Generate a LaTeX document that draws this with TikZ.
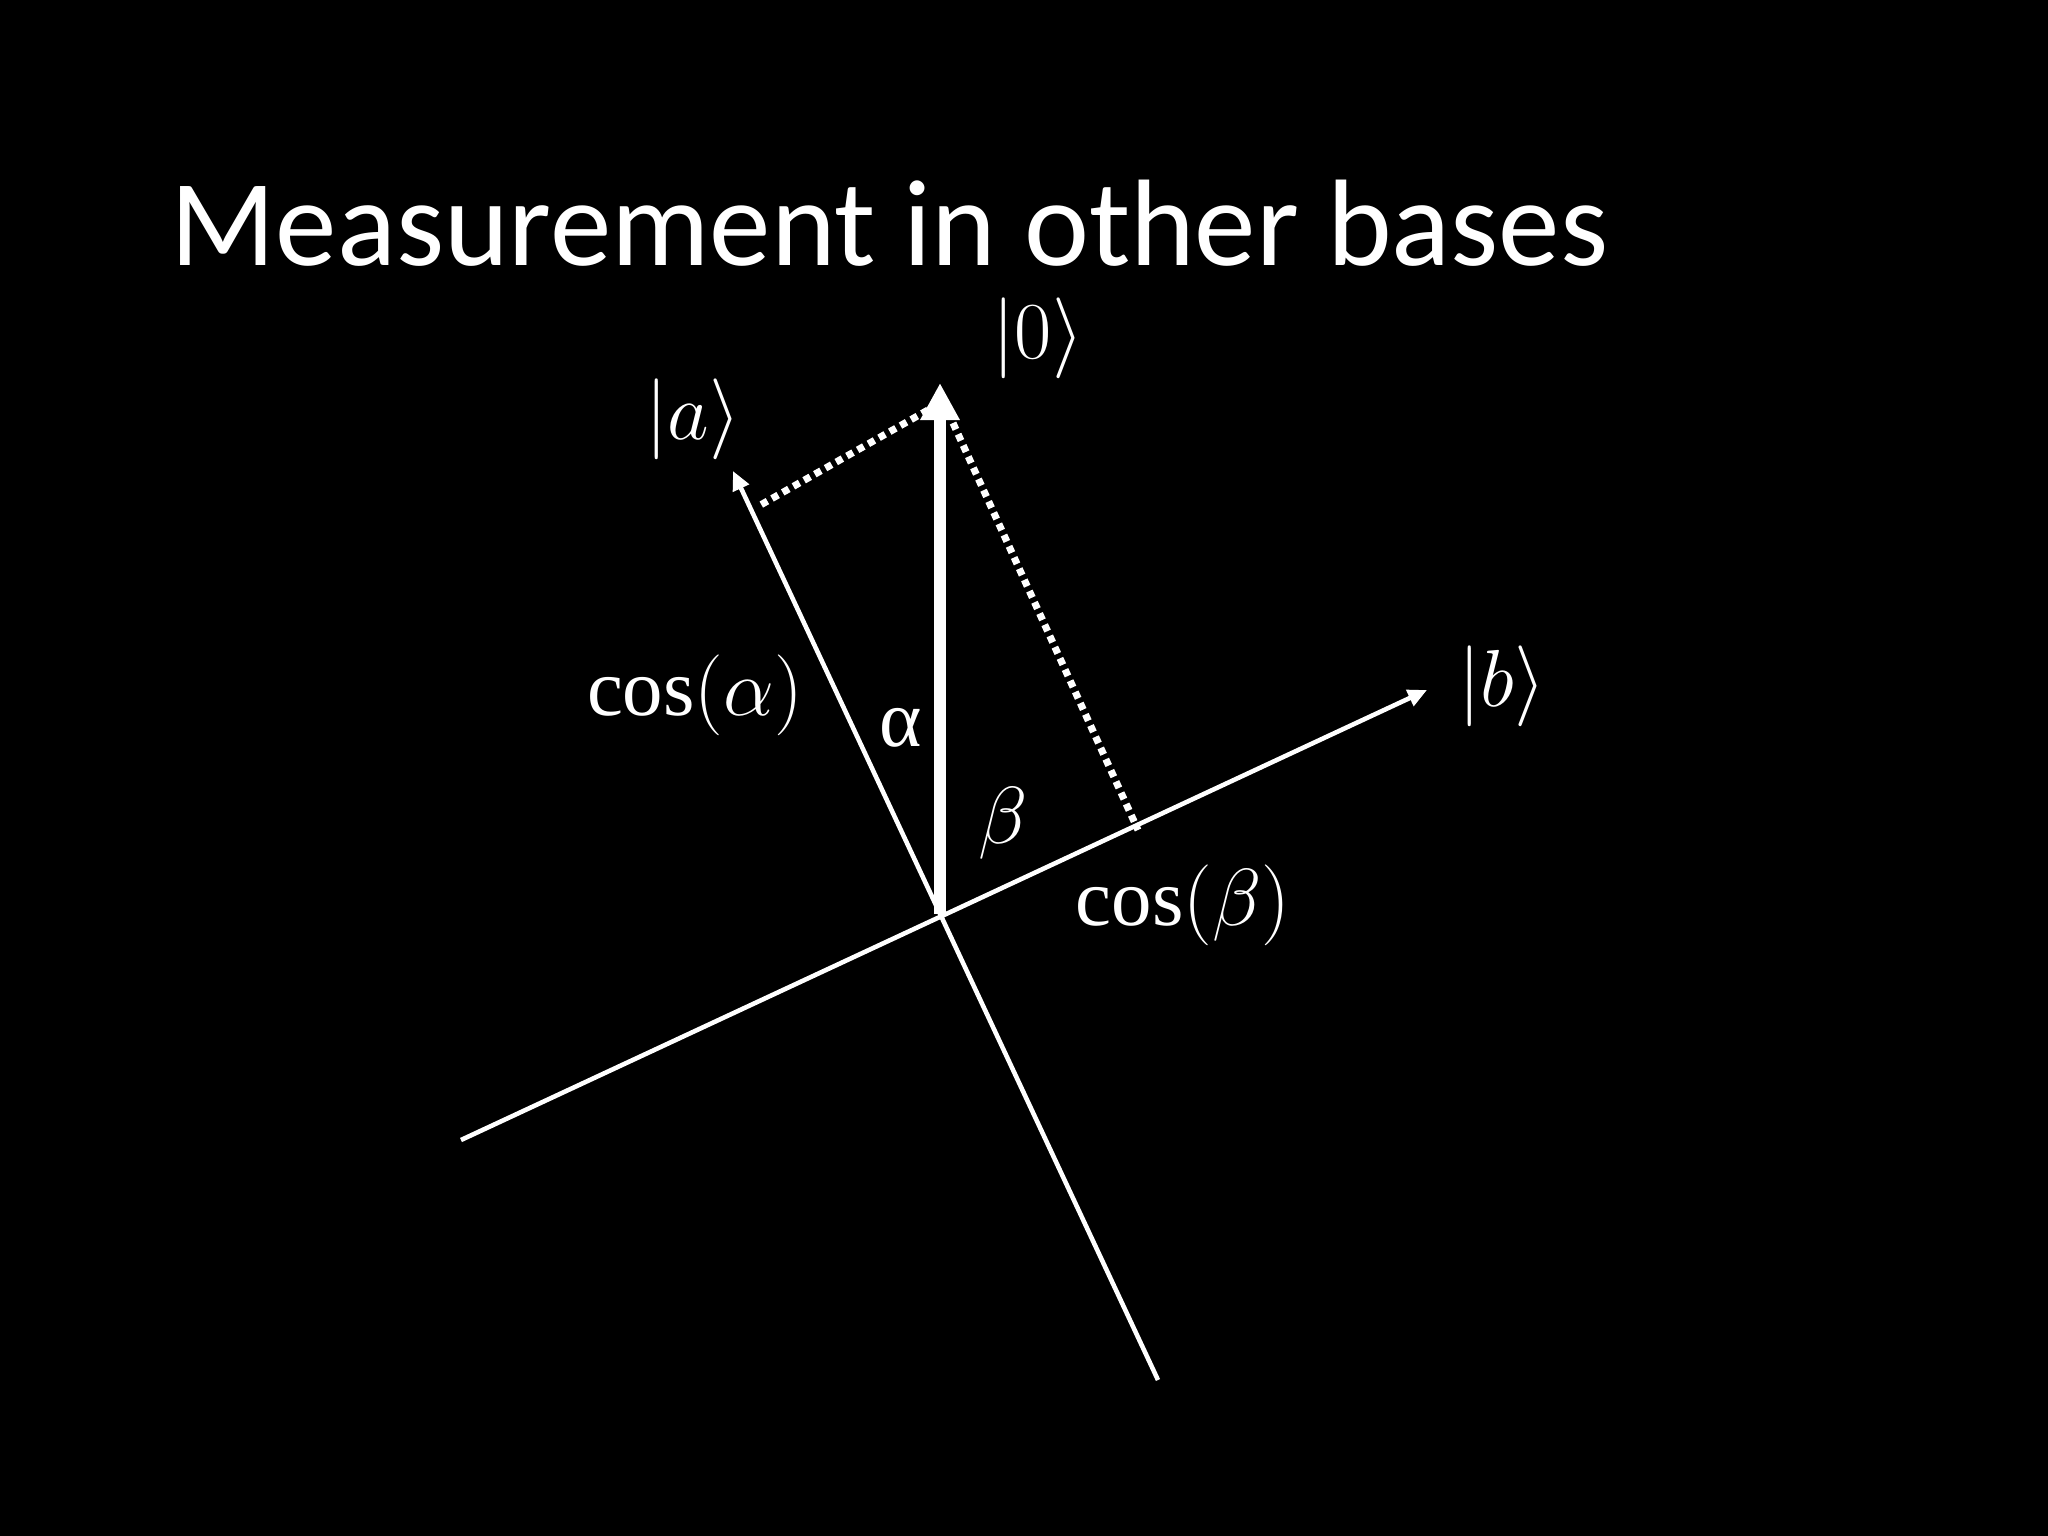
\documentclass[tikz,border=0pt]{standalone}
\usepackage{fix-cm}
\usepackage{fontspec}
\setmainfont{Liberation Serif}
\newfontfamily\titlefont{Carlito}
\usetikzlibrary{arrows.meta}
\begin{document}
\begin{tikzpicture}[x=0.01cm,y=-0.01cm,
  axis line/.style={white, line width=1.3pt},
  basis arrow/.style={axis line, -{Triangle[length=0.19cm,width=0.17cm]}},
  state arrow/.style={white, line width=3.4pt, -{Triangle[length=0.37cm,width=0.37cm]}},
  proj line/.style={white, line width=2pt, dash pattern=on 2pt off 1.5pt},
  ket label/.style={text=white, font=\fontsize{23}{26}\selectfont, inner sep=0pt}]
  \fill[black] (0,0) rectangle (2048,1536);
  \node[anchor=base west, text=white, font=\titlefont\fontsize{35}{40}\selectfont, inner sep=0pt] (title) at (170,265) {Measurement in other bases};

  \coordinate (O) at (940,914);
  \coordinate (zero) at (940,383);
  \coordinate (a) at (733,471);
  \coordinate (b) at (1427,690);
  \coordinate (aend) at (1158,1380);
  \coordinate (bend) at (461,1140);
  \coordinate (pa0) at (928,410);
  \coordinate (pa) at (757,507);
  \coordinate (pb0) at (953,423);
  \coordinate (pb) at (1138,830);

  % basis and state
  \draw[basis arrow] (aend) -- (a);
  \draw[basis arrow] (bend) -- (b);
  \draw[state arrow] (O) -- (zero);
  \draw[proj line] (pa0) -- (pa);
  \draw[proj line] (pb0) -- (pb);

  \node[ket label] (ket0) at (1038,338) {$|0\rangle$};
  \node[ket label] (keta) at (693,419) {$|a\rangle$};
  \node[ket label] (ketb) at (1502,686) {$|b\rangle$};
  \node[ket label] (cosa) at (695,695) {$\cos(\alpha)$};
  \node[ket label] (alpha) at (901,728) {α};
  \node[ket label] (beta) at (1003,823) {$\beta$};
  \node[ket label] (cosb) at (1183,905) {$\cos(\beta)$};
\end{tikzpicture}
\end{document}
